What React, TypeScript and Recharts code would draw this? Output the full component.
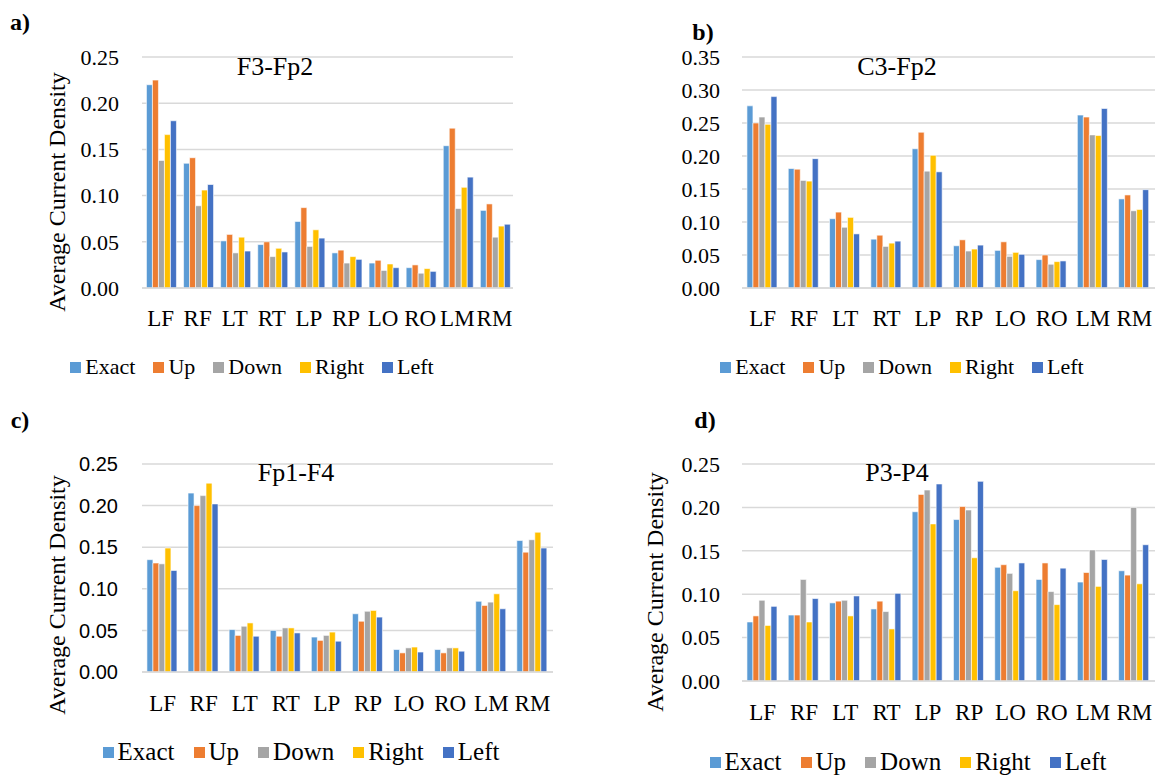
import { BarChart, Bar, XAxis, YAxis, CartesianGrid, Legend } from 'recharts'

const SERIF = '"Liberation Serif", "Times New Roman", serif'
const SANS = '"Liberation Sans", Arial, sans-serif'

const CATS = ['LF', 'RF', 'LT', 'RT', 'LP', 'RP', 'LO', 'RO', 'LM', 'RM']
const SERIES = ['Exact', 'Up', 'Down', 'Right', 'Left']
const COLORS = ['#5B9BD5', '#ED7D31', '#A5A5A5', '#FFC000', '#4472C4']

// rows follow SERIES order, columns follow CATS
const F3_FP2 = [
  [0.220, 0.135, 0.051, 0.047, 0.072, 0.038, 0.027, 0.022, 0.154, 0.084],
  [0.225, 0.141, 0.058, 0.050, 0.087, 0.041, 0.030, 0.025, 0.173, 0.091],
  [0.138, 0.089, 0.038, 0.034, 0.045, 0.027, 0.019, 0.016, 0.086, 0.055],
  [0.166, 0.106, 0.055, 0.043, 0.063, 0.034, 0.026, 0.021, 0.109, 0.067],
  [0.181, 0.112, 0.040, 0.039, 0.054, 0.031, 0.022, 0.018, 0.120, 0.069],
]
const C3_FP2 = [
  [0.276, 0.181, 0.105, 0.074, 0.211, 0.064, 0.057, 0.043, 0.262, 0.135],
  [0.250, 0.180, 0.115, 0.080, 0.236, 0.073, 0.070, 0.050, 0.259, 0.141],
  [0.259, 0.163, 0.092, 0.063, 0.177, 0.056, 0.048, 0.036, 0.232, 0.117],
  [0.248, 0.162, 0.107, 0.068, 0.201, 0.059, 0.054, 0.040, 0.231, 0.119],
  [0.290, 0.196, 0.082, 0.071, 0.176, 0.065, 0.051, 0.041, 0.272, 0.149],
]
const FP1_F4 = [
  [0.135, 0.215, 0.051, 0.050, 0.042, 0.070, 0.027, 0.027, 0.085, 0.158],
  [0.131, 0.200, 0.044, 0.043, 0.038, 0.061, 0.023, 0.023, 0.080, 0.144],
  [0.130, 0.212, 0.055, 0.053, 0.044, 0.073, 0.029, 0.029, 0.084, 0.159],
  [0.149, 0.227, 0.059, 0.053, 0.048, 0.074, 0.030, 0.029, 0.094, 0.168],
  [0.122, 0.202, 0.043, 0.047, 0.037, 0.066, 0.024, 0.025, 0.076, 0.149],
]
const P3_P4 = [
  [0.068, 0.076, 0.090, 0.083, 0.195, 0.186, 0.131, 0.117, 0.114, 0.127],
  [0.075, 0.076, 0.092, 0.092, 0.215, 0.201, 0.134, 0.136, 0.125, 0.122],
  [0.093, 0.117, 0.093, 0.080, 0.220, 0.197, 0.124, 0.103, 0.151, 0.200],
  [0.064, 0.068, 0.075, 0.060, 0.181, 0.142, 0.104, 0.088, 0.109, 0.112],
  [0.086, 0.095, 0.098, 0.101, 0.227, 0.230, 0.136, 0.130, 0.140, 0.157],
]

const TICKS_25 = [0, 0.05, 0.1, 0.15, 0.2, 0.25]
const TICKS_35 = [0, 0.05, 0.1, 0.15, 0.2, 0.25, 0.3, 0.35]

function toRows(rows: number[][]) {
  return CATS.map((c, i) => {
    const r: Record<string, string | number> = { cat: c }
    SERIES.forEach((s, k) => { r[s] = rows[k][i] })
    return r
  })
}

function LegendRow({ fontSize, gap }: { fontSize: number; gap: number }) {
  return (
    <div style={{ display: 'flex', justifyContent: 'center', alignItems: 'center', gap, height: 26, fontFamily: SERIF, fontSize, color: '#000' }}>
      {SERIES.map((s, i) => (
        <span key={s} style={{ display: 'flex', alignItems: 'center' }}>
          <span style={{ width: 11, height: 11, background: COLORS[i], marginRight: 4 }} />
          {s}
        </span>
      ))}
    </div>
  )
}

function Txt({ x, y, size, bold, children }: { x: number; y: number; size: number; bold?: boolean; children: string }) {
  return (
    <div style={{ position: 'absolute', left: x - 100, top: y - size * 0.6, width: 200, textAlign: 'center', fontFamily: SERIF, fontSize: size, fontWeight: bold ? 700 : 400, lineHeight: `${size * 1.2}px`, color: '#000' }}>
      {children}
    </div>
  )
}

interface PanelProps {
  x: number; y: number; w: number; h: number
  margin: { top: number; right: number; bottom: number; left: number }
  rows: number[][]
  ticks: number[]
  yFont: string; yFontSize: number; yGap: number
  xGap: number
  yLabel?: { x: number; y: number }
  legend: { top: number; cx: number; size: number; gap: number }
}

function Panel(p: PanelProps) {
  const data = toRows(p.rows)
  const max = p.ticks[p.ticks.length - 1]
  return (
    <div style={{ position: 'absolute', left: p.x, top: p.y }}>
      <BarChart width={p.w} height={p.h} data={data} margin={p.margin} barCategoryGap="12%" barGap={0}>
        <CartesianGrid vertical={false} stroke="#d9d9d9" strokeWidth={1.5} />
        <XAxis dataKey="cat" interval={0} height={40} tickLine={false} tickSize={0} tickMargin={p.xGap}
          axisLine={{ stroke: '#d9d9d9', strokeWidth: 1.5 }}
          tick={{ fontSize: 23, fontFamily: SERIF, fill: '#000' }} />
        <YAxis type="number" domain={[0, max]} ticks={p.ticks} width={142 - p.margin.left} axisLine={false} tickLine={false}
          tickSize={0} tickMargin={p.yGap} tickFormatter={(v: number) => v.toFixed(2)}
          tick={{ fontSize: p.yFontSize, fontFamily: p.yFont, fill: '#000' }}
          label={p.yLabel ? {
            content: () => (
              <text transform={`translate(${p.yLabel!.x},${p.yLabel!.y}) rotate(-90)`} textAnchor="middle"
                dominantBaseline="central" fontFamily={SERIF} fontSize={24} fill="#000">Average Current Density</text>
            ),
          } : undefined} />
        <Legend verticalAlign="middle" align="center" layout="horizontal"
          wrapperStyle={{ top: p.legend.top, left: p.legend.cx - 250, width: 500 }}
          content={() => <LegendRow fontSize={p.legend.size} gap={p.legend.gap} />} />
        {SERIES.map((s, i) => (
          <Bar key={s} dataKey={s} fill={COLORS[i]} stroke="#fff" strokeWidth={0.6} isAnimationActive={false} />
        ))}
      </BarChart>
    </div>
  )
}

export default function App() {
  return (
    <div style={{ position: 'fixed', left: 0, top: 0, width: 1162, height: 778, background: '#fff', overflow: 'hidden', fontFamily: SERIF }}>
      <Panel x={0} y={0} w={580} h={400} margin={{ top: 57, right: 67, bottom: 72, left: 2 }} rows={F3_FP2} ticks={TICKS_25}
        yFont={SERIF} yFontSize={22} yGap={23} xGap={22} yLabel={{ x: 57, y: 192 }} legend={{ top: 354, cx: 252, size: 22, gap: 18 }} />
      <Panel x={600} y={0} w={562} h={400} margin={{ top: 57, right: 7, bottom: 72, left: 0 }} rows={C3_FP2} ticks={TICKS_35}
        yFont={SERIF} yFontSize={22} yGap={22} xGap={22} legend={{ top: 354, cx: 302, size: 22, gap: 18 }} />
      <Panel x={0} y={400} w={580} h={378} margin={{ top: 64, right: 27, bottom: 66, left: 0 }} rows={FP1_F4} ticks={TICKS_25}
        yFont={SANS} yFontSize={20} yGap={24} xGap={23} yLabel={{ x: 57, y: 195 }} legend={{ top: 339, cx: 301, size: 25, gap: 19 }} />
      <Panel x={600} y={400} w={562} h={378} margin={{ top: 64, right: 7, bottom: 57, left: 0 }} rows={P3_P4} ticks={TICKS_25}
        yFont={SERIF} yFontSize={22} yGap={22} xGap={23} yLabel={{ x: 55, y: 192 }} legend={{ top: 349, cx: 908 - 600, size: 25, gap: 19 }} />

      <Txt x={20} y={22} size={24} bold>a)</Txt>
      <Txt x={703} y={32} size={24} bold>b)</Txt>
      <Txt x={20} y={420} size={24} bold>c)</Txt>
      <Txt x={705} y={420} size={24} bold>d)</Txt>

      <Txt x={275} y={67} size={26}>F3-Fp2</Txt>
      <Txt x={897} y={67} size={26}>C3-Fp2</Txt>
      <Txt x={296} y={473} size={26}>Fp1-F4</Txt>
      <Txt x={897} y={473} size={26}>P3-P4</Txt>
    </div>
  )
}
